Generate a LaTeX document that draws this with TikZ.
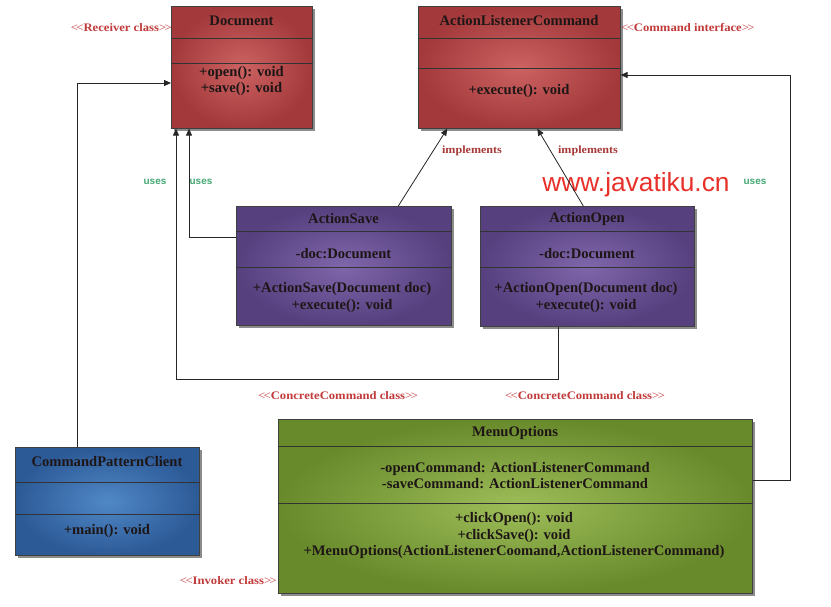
\documentclass[tikz,border=0pt]{standalone}
\usepackage{fontspec}
\setmainfont{Liberation Serif}
\newfontfamily\lblfont[FakeStretch=1.1]{Liberation Serif}
\newfontfamily\wmfont{Liberation Sans}
\newfontfamily\usesfnt{Liberation Sans}
\usetikzlibrary{shadows,arrows.meta}
\definecolor{redE}{HTML}{A3393A}
\definecolor{redI}{HTML}{CC6262}
\definecolor{purE}{HTML}{56407E}
\definecolor{purI}{HTML}{7F66AB}
\definecolor{bluE}{HTML}{2C5A97}
\definecolor{bluI}{HTML}{5088C6}
\definecolor{grnE}{HTML}{688A2B}
\definecolor{grnI}{HTML}{9DBD58}
\definecolor{lblred}{HTML}{C23A3A}
\definecolor{impred}{HTML}{A83838}
\definecolor{usegrn}{HTML}{45A874}
\definecolor{wmred}{HTML}{E8302A}
\definecolor{txt}{HTML}{1E1616}
\tikzset{
  cls/.style={draw=black!75, line width=0.6pt, anchor=north west, inner sep=0pt,
    drop shadow={shadow xshift=3pt, shadow yshift=-3pt, opacity=0.6, fill=black!75}},
  docbox/.style={cls, inner color=redI, outer color=redE},
  purbox/.style={cls, inner color=purI, outer color=purE},
  blubox/.style={cls, inner color=bluI, outer color=bluE},
  grnbox/.style={cls, inner color=grnI, outer color=grnE},
  div/.style={draw=black!80, line width=0.6pt},
  ctext/.style={font=\bfseries\fontsize{14.6}{16.8}\selectfont, text=txt, align=center, inner sep=0pt},
  lbl/.style={font=\lblfont\fontsize{11.5}{12}\selectfont, text=lblred, inner sep=0pt},
  impl/.style={font=\lblfont\bfseries\fontsize{11}{12}\selectfont, text=impred, inner sep=0pt},
  uses/.style={font=\usesfnt\bfseries\fontsize{10}{11}\selectfont, text=usegrn, inner sep=0pt},
  arr/.style={draw=black!85, line width=0.8pt, -{Triangle[length=7pt,width=6pt]}},
}
\newcommand{\sterm}[1]{{\mdseries<\kern-1.5pt<}\textbf{#1}{\mdseries>\kern-1.5pt>}}
\begin{document}
\begin{tikzpicture}[x=1pt,y=-1pt]
\useasboundingbox (0,0) rectangle (831,606);
\fill[white] (0,0) rectangle (831,606);

% boxes
\node[docbox, minimum width=141pt, minimum height=122pt] (doc) at (171,6) {};
\node[docbox, minimum width=202pt, minimum height=122pt] (alc) at (418,6) {};
\node[purbox, minimum width=215pt, minimum height=119pt] (save) at (236,206) {};
\node[purbox, minimum width=214pt, minimum height=120pt] (open) at (480,206) {};
\node[blubox, minimum width=184pt, minimum height=108pt] (client) at (15,447) {};
\node[grnbox, minimum width=474pt, minimum height=174pt] (menu) at (278,419) {};

% dividers
\draw[div] (doc.west |- 0,38) -- (doc.east |- 0,38);
\draw[div] (doc.west |- 0,63) -- (doc.east |- 0,63);
\draw[div] (alc.west |- 0,38) -- (alc.east |- 0,38);
\draw[div] (alc.west |- 0,68) -- (alc.east |- 0,68);
\draw[div] (save.west |- 0,231) -- (save.east |- 0,231);
\draw[div] (save.west |- 0,267) -- (save.east |- 0,267);
\draw[div] (open.west |- 0,231) -- (open.east |- 0,231);
\draw[div] (open.west |- 0,267) -- (open.east |- 0,267);
\draw[div] (client.west |- 0,482) -- (client.east |- 0,482);
\draw[div] (client.west |- 0,514) -- (client.east |- 0,514);
\draw[div] (menu.west |- 0,446) -- (menu.east |- 0,446);
\draw[div] (menu.west |- 0,503) -- (menu.east |- 0,503);

% texts
\node[ctext] (docT) at (241.5,21) {Document};
\node[ctext] (docM) at (241.5,81) {+open(): void\\+save(): void};
\node[ctext] (alcT) at (519,21) {ActionListenerCommand};
\node[ctext] (alcM) at (519,91) {+execute(): void};
\node[ctext] (saveT) at (343.5,219) {ActionSave};
\node[ctext] (saveA) at (343.5,254) {-doc:Document};
\node[ctext] (saveM) at (342,297.5) {+ActionSave(Document doc)\\+execute(): void};
\node[ctext] (openT) at (587,219) {ActionOpen};
\node[ctext] (openA) at (587,254) {-doc:Document};
\node[ctext] (openM) at (586,297.5) {+ActionOpen(Document doc)\\+execute(): void};
\node[ctext] (clientT) at (107,461) {CommandPatternClient};
\node[ctext] (clientM) at (107,531) {+main(): void};
\node[ctext] (menuT) at (515,433) {MenuOptions};
\node[ctext] (menuA) at (515,475.5) {-openCommand: ActionListenerCommand\\-saveCommand: ActionListenerCommand};
\node[ctext] (menuM) at (514,535.5) {+clickOpen(): void\\+clickSave(): void\\+MenuOptions(ActionListenerCoomand,ActionListenerCommand)};

% labels
\node[lbl, anchor=east] (rcv) at (172,27.5) {\sterm{Receiver class}};
\node[lbl, anchor=west] (cmdi) at (621,27.5) {\sterm{Command interface}};
\node[lbl] (cc1) at (338,395.5) {\sterm{ConcreteCommand class}};
\node[lbl] (cc2) at (585,395.5) {\sterm{ConcreteCommand class}};
\node[lbl, anchor=east] (inv) at (277,580.5) {\sterm{Invoker class}};
\node[impl] (im1) at (472,150.5) {implements};
\node[impl] (im2) at (588,150.5) {implements};
\node[uses] (u1) at (155,182) {uses};
\node[uses] (u2) at (201,182) {uses};
\node[uses] (u3) at (755,182) {uses};
\node[font=\wmfont\fontsize{26.3}{26}\selectfont, text=wmred, inner sep=0pt] (wm) at (636,185) {www.javatiku.cn};

% connectors
\coordinate (b1) at (77,83);
\draw[arr] (client.north -| b1) |- (doc.west |- b1);
\coordinate (b2) at (189,237);
\draw[arr] (save.west |- b2) -| (doc.south -| b2);
\coordinate (b3) at (558,379);
\coordinate (b4) at (176,379);
\draw[arr] (open.south -| b3) -- (b3) -- (b4) -- (doc.south -| b4);
\draw[arr] ([xshift=54.5pt]save.north) -- ([xshift=-72pt]alc.south);
\draw[arr] ([xshift=-4pt]open.north) -- ([xshift=18pt]alc.south);
\coordinate (b5) at (790,480);
\coordinate (b6) at (790,75);
\draw[arr] (menu.east |- b5) -- (b5) -- (b6) -- (alc.east |- b6);
\end{tikzpicture}
\end{document}
